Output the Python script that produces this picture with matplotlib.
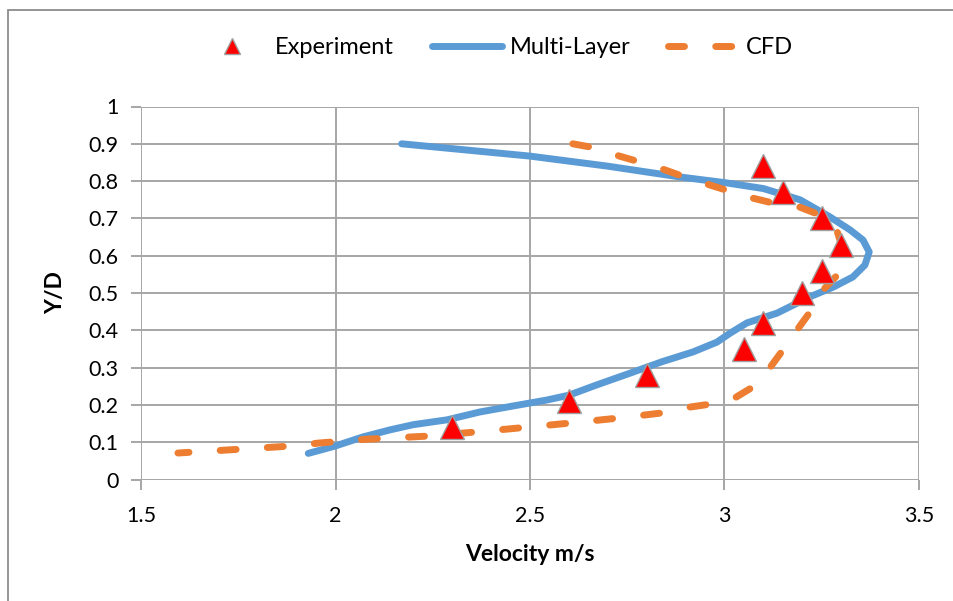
import matplotlib
matplotlib.use("Agg")
import matplotlib.pyplot as plt
from matplotlib.patches import Rectangle

# Measured velocity profile (triangles)
exp_velocity = [3.10, 3.15, 3.25, 3.30, 3.25, 3.20, 3.10, 3.05, 2.80, 2.60, 2.30]
exp_yd = [0.84, 0.77, 0.70, 0.63, 0.56, 0.50, 0.42, 0.35, 0.28, 0.21, 0.14]

# Multi-layer model profile
ml_velocity = [2.17, 2.50, 2.70, 2.886, 3.00, 3.10, 3.194, 3.271, 3.323, 3.356, 3.372,
               3.361, 3.33, 3.28, 3.22, 3.135, 3.058, 3.014, 2.98, 2.919, 2.84, 2.757,
               2.67, 2.60, 2.543, 2.456, 2.371, 2.287, 2.20, 2.14, 2.07, 2.00, 1.93]
ml_yd = [0.90, 0.867, 0.840, 0.811, 0.796, 0.780, 0.750, 0.704, 0.669, 0.642, 0.610,
         0.575, 0.543, 0.516, 0.490, 0.446, 0.420, 0.392, 0.368, 0.342, 0.316, 0.285,
         0.253, 0.226, 0.213, 0.197, 0.181, 0.160, 0.147, 0.133, 0.114, 0.090, 0.070]

# CFD profile
cfd_velocity = [2.61, 2.667, 2.73, 2.783, 2.847, 2.90, 3.01, 3.07, 3.125, 3.194, 3.246,
                3.275, 3.29, 3.305, 3.305, 3.29, 3.258, 3.22, 3.19, 3.15, 3.117, 3.073,
                3.03, 2.963, 2.91, 2.836, 2.73, 2.61, 2.44, 2.25, 2.08, 1.96, 1.89,
                1.72, 1.595]
cfd_yd = [0.90, 0.889, 0.867, 0.851, 0.830, 0.810, 0.774, 0.755, 0.741, 0.730, 0.709,
          0.690, 0.664, 0.615, 0.580, 0.548, 0.513, 0.449, 0.406, 0.347, 0.300, 0.248,
          0.221, 0.202, 0.194, 0.178, 0.165, 0.152, 0.135, 0.117, 0.108, 0.098, 0.090,
          0.079, 0.071]

x_ticks = [1.5, 2.0, 2.5, 3.0, 3.5]
x_tick_labels = ["1.5", "2", "2.5", "3", "3.5"]
y_ticks = [0, 0.1, 0.2, 0.3, 0.4, 0.5, 0.6, 0.7, 0.8, 0.9, 1.0]
y_tick_labels = ["0", "0.1", "0.2", "0.3", "0.4", "0.5", "0.6", "0.7", "0.8", "0.9", "1"]

plt.rcParams["font.family"] = ["Lato", "DejaVu Sans"]

W, H = 954, 601
fig = plt.figure(figsize=(W / 100, H / 100), dpi=100)
fig.patch.set_facecolor("white")

# outer chart border
fig.patches.append(Rectangle((8 / W, -0.1), 2, 1 - 10 / H + 0.1, transform=fig.transFigure,
                             fill=False, edgecolor="#8c8c8c", linewidth=1.3))

left, right, top, bottom = 141, 919, 106.5, 479.5
ax = fig.add_axes([left / W, 1 - bottom / H, (right - left) / W, (bottom - top) / H])

grid_c = "#a6a6a6"
ax.set_xlim(1.5, 3.5)
ax.set_ylim(0, 1)
ax.set_xticks(x_ticks)
ax.set_xticklabels(x_tick_labels)
ax.set_yticks(y_ticks)
ax.set_yticklabels(y_tick_labels)
ax.grid(True, color=grid_c, linewidth=1.4)
ax.set_axisbelow(True)
for s in ax.spines.values():
    s.set_visible(False)
ax.tick_params(axis="both", length=7, width=1.4, color=grid_c, labelsize=15.5,
               labelcolor="black", direction="out")
ax.tick_params(axis="x", pad=12)
ax.tick_params(axis="y", pad=9)

ax.set_xlabel("Velocity m/s", fontsize=16.5, fontweight="bold", labelpad=13)
ax.set_ylabel("Y/D", fontsize=16.5, fontweight="bold", labelpad=16)

lw = 5
ml_line, = ax.plot(ml_velocity, ml_yd, color="#5B9BD5", linewidth=lw,
                   solid_capstyle="round", solid_joinstyle="round", label="Multi-Layer",
                   zorder=3)
cfd_line, = ax.plot(cfd_velocity, cfd_yd, color="#ED7D31", linewidth=lw,
                    dash_capstyle="round", dash_joinstyle="round", label="CFD", zorder=4)
cfd_line.set_dashes([2.3, 4.5])
exp_pts, = ax.plot(exp_velocity, exp_yd, linestyle="none", marker="^", markersize=17,
                   markerfacecolor="#FF0000", markeredgecolor="#a0a0a0",
                   markeredgewidth=1.0, label="Experiment", zorder=5)

leg = fig.legend(handles=[exp_pts, ml_line, cfd_line], loc="center",
                 bbox_to_anchor=(495 / W, 1 - 48 / H), ncol=3, frameon=False,
                 fontsize=17, handlelength=3.0, handletextpad=0.3,
                 columnspacing=1.6, markerscale=0.7)

fig.savefig("out.png", dpi=100, facecolor="white")
